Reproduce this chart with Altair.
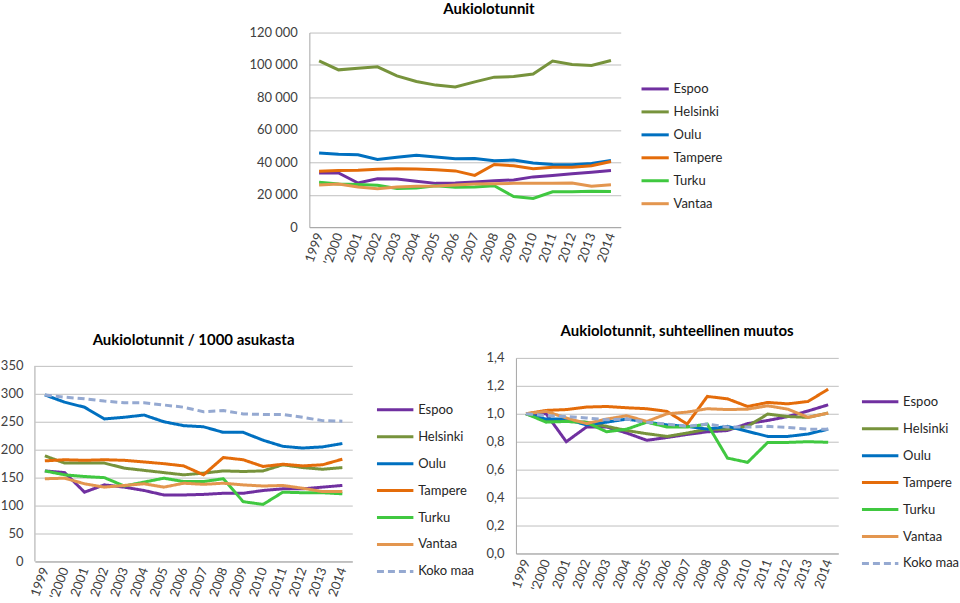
import altair as alt
import pandas as pd

FONT = "Lato"

years = ["1999", "'2000", "2001", "2002", "2003", "2004", "2005", "2006",
         "2007", "2008", "2009", "2010", "2011", "2012", "2013", "2014"]
cities = ["Espoo", "Helsinki", "Oulu", "Tampere", "Turku", "Vantaa"]
series7 = cities + ["Koko maa"]
colors = ["#7030A0", "#77933C", "#0070C0", "#E46C0A", "#40C840", "#E3964F"]
koko_color = "#95A9D1"

# Aukiolotunnit
hours_espoo = [33400, 33400, 27200, 29800, 29700, 28300, 27000, 27300, 27900, 28600, 29100, 31000, 31900, 32900, 33900, 35000]
hours_helsinki = [102500, 97000, 98000, 98900, 93300, 89800, 87600, 86400, 89600, 92500, 92900, 94400, 102400, 100300, 99700, 102800]
hours_oulu = [45700, 44900, 44600, 41800, 43100, 44300, 43200, 42200, 42400, 40900, 41400, 39600, 38700, 38500, 39300, 41100]
hours_tampere = [34500, 35000, 35100, 35700, 36000, 35800, 35400, 34700, 31900, 38600, 37800, 36000, 36900, 36900, 37900, 40500]
hours_turku = [27700, 26600, 26300, 25900, 23800, 24200, 25500, 24600, 24800, 25500, 18900, 17700, 21800, 21800, 22200, 22000]
hours_vantaa = [26000, 26600, 24800, 23700, 24700, 25200, 25300, 26000, 26600, 26800, 27000, 27000, 27000, 27200, 25200, 26100]

# Aukiolotunnit / 1000 asukasta
per_espoo = [162, 159, 124, 137, 133, 127, 119, 119, 120, 122, 122, 127, 130, 130, 133, 136]
per_helsinki = [189, 176, 176, 176, 167, 163, 159, 155, 158, 162, 161, 162, 173, 168, 165, 168]
per_oulu = [298, 285, 276, 255, 258, 262, 250, 243, 241, 231, 231, 217, 206, 203, 205, 211]
per_tampere = [180, 182, 181, 182, 181, 178, 175, 171, 155, 186, 182, 170, 174, 171, 173, 183]
per_turku = [162, 155, 152, 150, 135, 142, 149, 143, 143, 148, 107, 102, 124, 123, 123, 121]
per_vantaa = [148, 149, 139, 133, 136, 139, 133, 140, 138, 140, 137, 135, 136, 131, 125, 125]
per_koko = [298, 294, 291, 287, 284, 284, 280, 276, 268, 270, 264, 263, 263, 258, 252, 251]

# Aukiolotunnit, suhteellinen muutos
rel_espoo = [1.0, 1.0, 0.80, 0.905, 0.905, 0.862, 0.81, 0.83, 0.852, 0.871, 0.88, 0.93, 0.952, 0.98, 1.02, 1.064]
rel_helsinki = [1.0, 0.952, 0.945, 0.94, 0.91, 0.88, 0.857, 0.838, 0.862, 0.89, 0.89, 0.91, 0.998, 0.98, 0.974, 1.005]
rel_oulu = [1.0, 0.962, 0.962, 0.92, 0.94, 0.962, 0.94, 0.92, 0.91, 0.89, 0.91, 0.874, 0.838, 0.838, 0.855, 0.89]
rel_tampere = [1.0, 1.024, 1.03, 1.048, 1.052, 1.043, 1.036, 1.017, 0.926, 1.124, 1.107, 1.052, 1.081, 1.071, 1.088, 1.176]
rel_turku = [1.0, 0.94, 0.945, 0.938, 0.871, 0.89, 0.94, 0.905, 0.905, 0.926, 0.683, 0.652, 0.795, 0.795, 0.80, 0.796]
rel_vantaa = [1.0, 1.017, 0.97, 0.93, 0.962, 0.986, 0.945, 1.0, 1.012, 1.036, 1.03, 1.033, 1.057, 1.033, 0.974, 1.005]
rel_koko = [1.0, 0.986, 0.98, 0.97, 0.957, 0.962, 0.94, 0.926, 0.91, 0.926, 0.905, 0.905, 0.91, 0.902, 0.89, 0.89]


def long_df(names, arrays):
    rows = []
    for name, arr in zip(names, arrays):
        for y, v in zip(years, arr):
            rows.append({"year": y, "series": name, "value": v})
    return pd.DataFrame(rows)


df_top = long_df(cities, [hours_espoo, hours_helsinki, hours_oulu, hours_tampere, hours_turku, hours_vantaa])
df_per = long_df(series7, [per_espoo, per_helsinki, per_oulu, per_tampere, per_turku, per_vantaa, per_koko])
df_rel = long_df(series7, [rel_espoo, rel_helsinki, rel_oulu, rel_tampere, rel_turku, rel_vantaa, rel_koko])

GRID = "#BFBFBF"
DOMAIN = "#A6A6A6"
LABEL = "#404040"


def x_enc():
    return alt.X("year:N", sort=years, scale=alt.Scale(padding=0.5),
                 axis=alt.Axis(title=None, labelAngle=-70, labelAlign="right",
                               labelBaseline="middle", labelPadding=6, grid=False,
                               domainColor=DOMAIN, ticks=False))


def legend(sym_size, row_pad, lx, ly):
    return alt.Legend(title=None, orient="none", legendX=lx, legendY=ly,
                      symbolType="stroke", symbolStrokeWidth=3, symbolSize=sym_size,
                      rowPadding=row_pad, labelFontSize=13, labelFont=FONT,
                      labelColor="#262626", labelOffset=3, padding=0)


# Top chart
top = alt.Chart(df_top).mark_line(strokeWidth=3).encode(
    x=x_enc(),
    y=alt.Y("value:Q", scale=alt.Scale(domain=[0, 120000]),
            axis=alt.Axis(title=None, values=list(range(0, 120001, 20000)),
                          labelExpr="replace(format(datum.value, ','), ',', ' ')",
                          labelPadding=12, ticks=False, domainColor=DOMAIN, gridColor=GRID)),
    color=alt.Color("series:N", sort=cities, scale=alt.Scale(domain=cities, range=colors),
                    legend=legend(745, -2.5, 331, 41)),
).properties(width=312, height=195,
             title=alt.TitleParams("Aukiolotunnit", font=FONT, fontSize=15, fontWeight="bold",
                                   color="#000000", offset=10, dx=24))

# invisible layout spacer that pushes the top chart to the right
spacer = alt.Chart(pd.DataFrame({"s": [0]})).mark_point(opacity=0, size=1).encode(
    x=alt.value(1), y=alt.value(1)).properties(width=275, height=10)

top_row = alt.hconcat(spacer, top, spacing=0, bounds="flush").resolve_scale(
    color="independent", x="independent", y="independent")

dash_range = [[1, 0]] * 6 + [[7, 4]]
leg_left = legend(1332, -11.9, 341, 32)
leg_right = legend(1332, -11.9, 345, 24)

# Bottom-left
left_y_axis = alt.Axis(title=None, values=list(range(0, 351, 50)), labelPadding=12,
                       ticks=False, domain=False, gridColor=GRID)
left_y_scale = alt.Scale(domain=[0, 350 * 204 / 196], nice=False)
left_lines = alt.Chart(df_per).mark_line(strokeWidth=3).encode(
    x=x_enc(),
    y=alt.Y("value:Q", scale=left_y_scale, axis=left_y_axis),
    color=alt.Color("series:N", sort=series7, scale=alt.Scale(domain=series7, range=colors + [koko_color]),
                    legend=leg_left),
    strokeDash=alt.StrokeDash("series:N", sort=series7, scale=alt.Scale(domain=series7, range=dash_range),
                              legend=leg_left),
)
left_axis = alt.Chart(pd.DataFrame({"y0": [0], "y1": [350]})).mark_rule(color=DOMAIN, strokeWidth=1).encode(
    x=alt.value(0), y=alt.Y("y0:Q", scale=left_y_scale, axis=left_y_axis), y2="y1:Q")
left = alt.layer(left_lines, left_axis).properties(
    width=318, height=204,
    title=alt.TitleParams("Aukiolotunnit / 1000 asukasta", font=FONT, fontSize=15,
                          fontWeight="bold", color="#000000", offset=10))

# Bottom-right
right = alt.Chart(df_rel).mark_line(strokeWidth=3).encode(
    x=x_enc(),
    y=alt.Y("value:Q", scale=alt.Scale(domain=[0, 1.4]),
            axis=alt.Axis(title=None, values=[0, 0.2, 0.4, 0.6, 0.8, 1.0, 1.2, 1.4],
                          labelExpr="replace(format(datum.value, '.1f'), '.', ',')",
                          labelPadding=12, ticks=False, domainColor=DOMAIN, gridColor=GRID)),
    color=alt.Color("series:N", sort=series7, scale=alt.Scale(domain=series7, range=colors + [koko_color]),
                    legend=leg_right),
    strokeDash=alt.StrokeDash("series:N", sort=series7, scale=alt.Scale(domain=series7, range=dash_range),
                              legend=leg_right),
).properties(width=323, height=196,
             title=alt.TitleParams("Aukiolotunnit, suhteellinen muutos", font=FONT, fontSize=15,
                                   fontWeight="bold", color="#000000", offset=13))

bottom = alt.hconcat(left, right, spacing=164, bounds="flush").resolve_scale(
    color="independent", strokeDash="independent", y="independent", x="independent")

chart = alt.vconcat(top_row, bottom, spacing=57).resolve_scale(
    color="independent", strokeDash="independent", y="independent", x="independent"
).properties(padding={"left": 0, "top": 1, "right": 0, "bottom": 0}).configure(
    font=FONT
).configure_view(stroke=None).configure_axis(
    labelFont=FONT, labelFontSize=13, labelColor=LABEL
)

chart.save("out.html", embed_options={"renderer": "svg", "actions": False})
